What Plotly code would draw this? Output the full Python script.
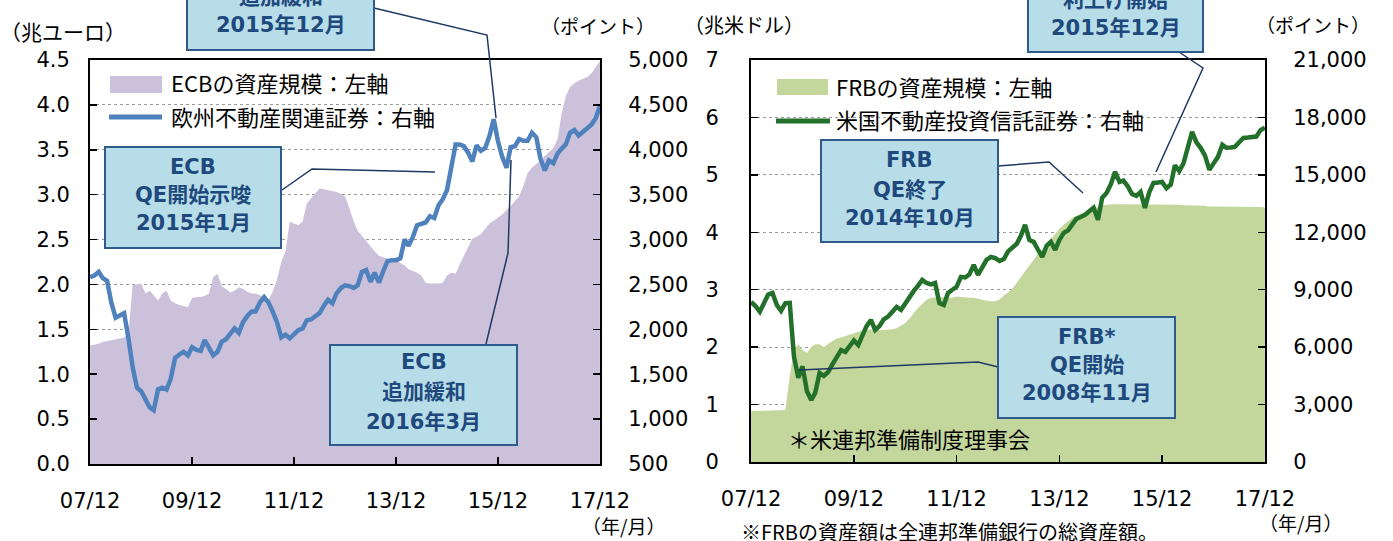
import pandas as pd
import plotly.graph_objects as go

W, H = 1393, 541

# ---------------- data (monthly, Dec 2007 - Dec 2017) ----------------
dates = pd.date_range("2007-12-01", periods=121, freq="MS")

ecb_assets = [1.32, 1.33, 1.34, 1.36, 1.37, 1.38, 1.39, 1.40, 1.41, 1.45,
              1.99, 2.00, 2.01, 1.90, 1.93, 1.88, 1.82, 1.90, 1.93, 1.82,
              1.79, 1.77, 1.76, 1.75, 1.85, 1.86, 1.86, 1.87, 1.90, 2.08,
              2.12, 1.98, 1.95, 1.91, 1.93, 1.97, 1.95, 1.92, 1.90, 1.90,
              1.88, 1.86, 1.82, 1.92, 2.05, 2.25, 2.37, 2.70, 2.68, 2.66,
              2.70, 2.90, 2.96, 3.02, 3.07, 3.06, 3.05, 3.04, 3.03, 3.01,
              2.98, 2.85, 2.70, 2.60, 2.54, 2.49, 2.42, 2.37, 2.32, 2.30,
              2.29, 2.28, 2.27, 2.24, 2.21, 2.17, 2.15, 2.13, 2.10, 2.02,
              2.01, 2.01, 2.01, 2.02, 2.10, 2.13, 2.12, 2.22, 2.32, 2.42,
              2.51, 2.53, 2.56, 2.62, 2.68, 2.71, 2.74, 2.78, 2.83, 2.87,
              2.93, 2.98, 3.10, 3.24, 3.30, 3.34, 3.38, 3.43, 3.48, 3.52,
              3.62, 3.90, 4.10, 4.20, 4.24, 4.27, 4.29, 4.31, 4.35, 4.42,
              4.49]

eu_reit = [2580, 2600, 2640, 2570, 2540, 2300, 2130, 2150, 2180, 1900,
           1580, 1350, 1310, 1220, 1130, 1100, 1330, 1350, 1330, 1450,
           1680, 1720, 1750, 1710, 1800, 1770, 1760, 1880, 1780, 1710,
           1750, 1860, 1890, 1960, 2010, 1960, 2080, 2150, 2200, 2200,
           2300, 2360, 2300, 2200, 2080, 1910, 1940, 1900, 1950, 1990,
           2010, 2100, 2110, 2140, 2180, 2260, 2330, 2290, 2400, 2460,
           2490, 2480, 2460, 2490, 2640, 2660, 2530, 2630, 2520, 2650,
           2760, 2770, 2770, 2790, 3000, 2930, 3030, 3160, 3180, 3190,
           3260, 3240, 3380, 3450, 3550, 3820, 4060, 4060, 4040, 3970,
           3870, 4050, 3990, 4020, 4150, 4340, 4100, 3920, 3800, 4030,
           4040, 4120, 4100, 4100, 4190, 4140, 3900, 3770, 3880, 3850,
           3960, 4010, 4060, 4190, 4220, 4160, 4200, 4250, 4280, 4350,
           4490]

frb_assets = [0.89, 0.89, 0.89, 0.89, 0.89, 0.89, 0.90, 0.90, 0.91, 1.50,
              1.95, 2.05, 1.95, 1.90, 2.00, 2.05, 2.05, 2.00, 2.06, 2.10,
              2.15, 2.17, 2.19, 2.21, 2.24, 2.27, 2.29, 2.30, 2.31, 2.30,
              2.30, 2.30, 2.30, 2.31, 2.33, 2.38, 2.42, 2.50, 2.60, 2.68,
              2.75, 2.82, 2.86, 2.87, 2.87, 2.87, 2.87, 2.86, 2.88, 2.87,
              2.86, 2.86, 2.86, 2.84, 2.83, 2.81, 2.80, 2.80, 2.83, 2.90,
              2.95, 3.02, 3.12, 3.22, 3.33, 3.42, 3.52, 3.62, 3.70, 3.77,
              3.88, 3.98, 4.06, 4.13, 4.20, 4.25, 4.29, 4.32, 4.36, 4.39,
              4.42, 4.45, 4.47, 4.48, 4.49, 4.49, 4.49, 4.49, 4.49, 4.48,
              4.48, 4.48, 4.48, 4.48, 4.48, 4.49, 4.49, 4.48, 4.48, 4.48,
              4.48, 4.47, 4.47, 4.47, 4.46, 4.46, 4.46, 4.45, 4.45, 4.45,
              4.45, 4.45, 4.45, 4.44, 4.44, 4.44, 4.44, 4.44, 4.44, 4.44,
              4.43]

us_reit = [8360, 8150, 7850, 8300, 8750, 8830, 8200, 7900, 8300, 8310,
           5500, 4400, 5000, 3700, 3240, 3610, 4650, 4500, 4700, 5100,
           5450, 5850, 5750, 6100, 6350, 6110, 6600, 7100, 7420, 6900,
           7100, 7450, 7600, 7900, 8100, 7950, 8300, 8620, 8950, 9200,
           9510, 9350, 9280, 9350, 8300, 8200, 8830, 9000, 9150, 9670,
           9640, 9800, 10300, 9770, 10200, 10560, 10710, 10650, 10500, 10600,
           11000, 11200, 11400, 11800, 12390, 11600, 11500, 11100, 10710, 11300,
           11500, 11080, 11600, 11970, 12100, 12400, 12700, 12800, 12910, 13100,
           13280, 12650, 13800, 14050, 14500, 15160, 14630, 14700, 14400, 14000,
           13900, 14110, 13280, 14100, 14580, 14600, 14630, 14300, 14500, 15500,
           15200, 15600, 16400, 17250, 16700, 16400, 16000, 15260, 15600, 15940,
           16570, 16420, 16430, 16460, 16700, 16930, 16950, 16990, 17000, 17350,
           17460]

x_tick_dates = ["2007-12-01", "2009-12-01", "2011-12-01", "2013-12-01", "2015-12-01", "2017-12-01"]
x_tick_text = ["07/12", "09/12", "11/12", "13/12", "15/12", "17/12"]

ecb_ticks = [0.0, 0.5, 1.0, 1.5, 2.0, 2.5, 3.0, 3.5, 4.0, 4.5]
eu_ticks = [500, 1000, 1500, 2000, 2500, 3000, 3500, 4000, 4500, 5000]
frb_ticks = [0, 1, 2, 3, 4, 5, 6, 7]
us_ticks = [0, 3000, 6000, 9000, 12000, 15000, 18000, 21000]

ecb_name = "ECBの資産規模：左軸"
eu_name = "欧州不動産関連証券：右軸"
frb_name = "FRBの資産規模：左軸"
us_name = "米国不動産投資信託証券：右軸"

# ---------------- styles ----------------
NUM_FONT = "Verdana, DejaVu Sans, Noto Sans CJK JP, sans-serif"
JP_FONT = "Noto Sans CJK JP, sans-serif"
BOX_FONT = "DejaVu Sans, Noto Sans CJK JP, sans-serif"
ECB_FILL = "#ccc1da"
EU_LINE = "#4f81bd"
FRB_FILL = "#c3d69b"
US_LINE = "#23702a"
BOX_FILL = "#b7dde8"
BOX_EDGE = "#2f5b8c"
BOX_TEXT = "#1f497d"
LEADER = "#1f3864"


def px(x):
    return x / W


def py(y):
    return 1 - y / H


fig = go.Figure()

fig.add_trace(go.Scatter(x=dates, y=ecb_assets, name=ecb_name, mode="lines",
                         fill="tozeroy", fillcolor=ECB_FILL,
                         line=dict(width=0, color=ECB_FILL),
                         xaxis="x", yaxis="y", showlegend=False))
fig.add_trace(go.Scatter(x=dates, y=eu_reit, name=eu_name, mode="lines",
                         line=dict(width=4.5, color=EU_LINE),
                         xaxis="x", yaxis="y2", showlegend=False))
fig.add_trace(go.Scatter(x=dates, y=frb_assets, name=frb_name, mode="lines",
                         fill="tozeroy", fillcolor=FRB_FILL,
                         line=dict(width=0, color=FRB_FILL),
                         xaxis="x2", yaxis="y3", showlegend=False))
fig.add_trace(go.Scatter(x=dates, y=us_reit, name=us_name, mode="lines",
                         line=dict(width=4.5, color=US_LINE),
                         xaxis="x2", yaxis="y4", showlegend=False))

tick_font = dict(family=NUM_FONT, size=21, color="black")
xrange = ["2007-11-30 12:00", "2017-12-01 12:00"]

common_x = dict(type="date", range=xrange, tickmode="array", tickvals=x_tick_dates,
                ticktext=x_tick_text, ticks="inside", ticklen=7, tickwidth=1.5,
                tickcolor="black", showline=True, linecolor="black", linewidth=2,
                mirror=True, showgrid=False, zeroline=False, tickfont=tick_font,
                ticklabelstandoff=17, automargin=False)

common_y = dict(tickmode="array", ticks="inside", ticklen=7, tickwidth=1.5,
                tickcolor="black", showline=True, linecolor="black", linewidth=2,
                zeroline=False, tickfont=tick_font, automargin=False)

fig.update_layout(
    width=W, height=H,
    autosize=False,
    margin=dict(l=0, r=0, t=0, b=0, pad=0),
    paper_bgcolor="white", plot_bgcolor="white",
    hovermode=False,
    xaxis=dict(domain=[px(90), px(600)], anchor="y", **common_x),
    yaxis=dict(domain=[py(464), py(60)], anchor="x", range=[0, 4.5 + 1e-6],
               tickvals=ecb_ticks, ticktext=[f"{v:.1f}" for v in ecb_ticks],
               showgrid=True, gridcolor="#9a9a9a", griddash="dot", gridwidth=1,
               ticklabelstandoff=14, **common_y),
    yaxis2=dict(overlaying="y", anchor="x", side="right", range=[500, 5000 + 1e-3],
                tickvals=eu_ticks, ticktext=[f"{v:,}" for v in eu_ticks],
                showgrid=False, ticklabelstandoff=22, **common_y),
    xaxis2=dict(domain=[px(751), px(1265)], anchor="y3", **common_x),
    yaxis3=dict(domain=[py(462), py(60)], anchor="x2", range=[0, 7 + 1e-6],
                tickvals=frb_ticks, ticktext=[str(v) for v in frb_ticks],
                showgrid=True, gridcolor="#9a9a9a", griddash="dot", gridwidth=1,
                ticklabelstandoff=26, **common_y),
    yaxis4=dict(overlaying="y3", anchor="x2", side="right", range=[0, 21000 + 1e-3],
                tickvals=us_ticks, ticktext=[f"{v:,}" for v in us_ticks],
                showgrid=False, ticklabelstandoff=22, **common_y),
)

shapes = []
annotations = []


def text(t, x, y, size=21, color="black", xanchor="center", family=JP_FONT, bold=False):
    annotations.append(dict(text=(f"<b>{t}</b>" if bold else t), x=px(x), y=py(y),
                            xref="paper", yref="paper", showarrow=False,
                            xanchor=xanchor, yanchor="middle",
                            font=dict(family=family, size=size, color=color)))


def box(x0, y0, x1, y1, lines, ys):
    shapes.append(dict(type="rect", xref="paper", yref="paper",
                       x0=px(x0), x1=px(x1), y0=py(y1), y1=py(y0),
                       fillcolor=BOX_FILL, line=dict(color=BOX_EDGE, width=2)))
    cx = (x0 + x1) / 2
    for t, yy in zip(lines, ys):
        text(t, cx, yy, size=21, color=BOX_TEXT, family=BOX_FONT, bold=True)


def leader(points):
    d = "M " + " L ".join(f"{px(a)},{py(b)}" for a, b in points)
    shapes.append(dict(type="path", xref="paper", yref="paper", path=d,
                       line=dict(color=LEADER, width=1.5)))


# leader lines (drawn before boxes)
leader([(374, 8), (487, 35), (496, 118)])
leader([(282, 190), (312, 169), (435, 172)])
leader([(486, 344), (508, 253), (511, 160)])
leader([(1179, 52), (1203, 68), (1156, 172)])
leader([(998, 166), (1049, 162), (1083, 193)])
leader([(998, 367), (978, 362), (799, 370)])

# annotation boxes
box(187, -80, 374, 50, ["ECB", "追加緩和", "2015年12月"], [-31, -3, 25])
box(105, 147, 281, 248, ["ECB", "QE開始示唆", "2015年1月"], [167, 195, 223])
box(330, 345, 517, 445, ["ECB", "追加緩和", "2016年3月"], [362, 392, 422])
box(1028, -80, 1203, 52, ["FRB", "利上げ開始", "2015年12月"], [-28, 0, 28])
box(821, 140, 998, 242, ["FRB", "QE終了", "2014年10月"], [160, 190, 218])
box(998, 317, 1175, 418, ["FRB*", "QE開始", "2008年11月"], [337, 365, 393])

# manual legends
shapes.append(dict(type="rect", xref="paper", yref="paper", x0=px(110), x1=px(162),
                   y0=py(93), y1=py(76), fillcolor=ECB_FILL, line=dict(width=0)))
shapes.append(dict(type="line", xref="paper", yref="paper", x0=px(109), x1=px(162),
                   y0=py(117), y1=py(117), line=dict(color=EU_LINE, width=5)))
text(ecb_name, 169, 82, size=22, xanchor="left")
text(eu_name, 169, 116, size=22, xanchor="left")

shapes.append(dict(type="rect", xref="paper", yref="paper", x0=px(777), x1=px(828),
                   y0=py(95), y1=py(79), fillcolor=FRB_FILL, line=dict(width=0)))
shapes.append(dict(type="line", xref="paper", yref="paper", x0=px(776), x1=px(830),
                   y0=py(121), y1=py(121), line=dict(color=US_LINE, width=5)))
text(frb_name, 834, 86, size=22, xanchor="left")
text(us_name, 834, 119, size=22, xanchor="left")

# axis unit labels and notes
text("（兆ユーロ）", 63, 31, size=21)
text("（ポイント）", 598, 25, size=19)
text("（兆米ドル）", 744, 24, size=20)
text("（ポイント）", 1313, 24, size=19)
text("（年/月）", 623, 525, size=19)
text("（年/月）", 1300, 522, size=19)
text("＊米連邦準備制度理事会", 786, 438, size=22, xanchor="left")
text("※FRBの資産額は全連邦準備銀行の総資産額。", 739, 531, size=20, xanchor="left")

fig.update_layout(shapes=shapes, annotations=annotations)

fig.write_html("out.html",
               config={"displayModeBar": False, "staticPlot": True},
               post_script="document.body.style.margin='0';document.body.style.overflow='hidden';")
